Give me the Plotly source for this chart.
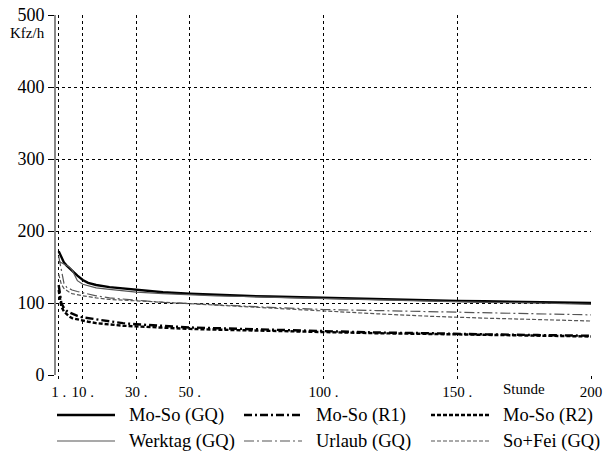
import plotly.graph_objects as go

hours = [1, 2, 3, 4, 5, 6, 8, 10, 12, 15, 20, 25, 30, 40, 50, 60, 70, 80, 90, 100, 120, 140, 150, 160, 180, 200]

mo_so_gq = [172, 163, 156, 152, 148, 145, 138, 132, 128, 125, 122, 120, 118, 115, 113, 111, 110, 109, 108, 107, 106, 104, 103, 102.5, 101.5, 100]
mo_so_r1 = [125, 100, 93, 89, 87, 85, 82, 80, 79, 77, 74, 72, 70.5, 68, 66, 65, 64, 62.5, 62, 61, 59, 58, 57, 56.5, 55.5, 54.5]
mo_so_r2 = [118, 95, 88, 84, 81, 79, 77, 75, 74, 72, 70, 68.5, 67.5, 65.5, 64, 63, 62, 61, 60, 59.5, 58, 57, 56.5, 55.5, 54.5, 53.5]
werktag_gq = [158, 156, 155, 153, 150, 146, 131, 126, 124, 121, 119, 117, 115, 113, 111, 110, 109, 108, 107, 106, 104, 102, 101.5, 101, 100, 98]
urlaub_gq = [165, 145, 127, 122, 120, 118, 116, 114, 112, 110, 107, 105, 104, 101, 99, 97, 95.5, 94, 92.5, 91, 89.5, 88, 87.5, 86.5, 85, 83.5]
sofei_gq = [140, 126, 120, 117, 115, 113, 111, 110, 109, 107, 105, 104, 103, 100, 98, 96, 94, 92, 90, 88, 85, 81.5, 80, 79, 77, 75]

x_tick_vals = [1, 10, 30, 50, 100, 150, 200]
x_tick_text = ["1 .", "10 .", "30 .", "50 .", "100 .", "150 .", "200"]
y_tick_vals = [0, 100, 200, 300, 400, 500]

series_names = ["Mo-So (GQ)", "Mo-So (R1)", "Mo-So (R2)", "Werktag (GQ)", "Urlaub (GQ)", "So+Fei (GQ)"]
series_values = [mo_so_gq, mo_so_r1, mo_so_r2, werktag_gq, urlaub_gq, sofei_gq]
series_styles = [
    dict(color="black", width=2.4, dash="solid"),
    dict(color="black", width=2.4, dash="8px,3px,2px,3px"),
    dict(color="black", width=2.4, dash="4px,2px"),
    dict(color="#555555", width=1.2, dash="solid"),
    dict(color="#555555", width=1.2, dash="10px,3px,2px,3px"),
    dict(color="#555555", width=1.2, dash="4px,2px"),
]

W, H = 604, 452
ML, MR, MT, MB = 56, 13, 15, 77
PW, PH = W - ML - MR, H - MT - MB

def px_x(px):
    return (px - ML) / PW

def px_y(py):
    return (H - MB - py) / PH

font_family = "'Times New Roman', 'Liberation Serif', 'DejaVu Serif', serif"

fig = go.Figure()
for name, vals, line in zip(series_names, series_values, series_styles):
    fig.add_trace(go.Scatter(x=hours, y=vals, mode="lines", name=name, line=line, showlegend=False))

# manual legend (2 rows x 3 columns)
col_line_x = [57, 244, 431]
row_y = [415, 441]
for i, (name, line) in enumerate(zip(series_names, series_styles)):
    r, c = divmod(i, 3)
    x0 = col_line_x[c]
    y = row_y[r]
    fig.add_shape(type="line", xref="paper", yref="paper",
                  x0=px_x(x0), x1=px_x(x0 + 58), y0=px_y(y), y1=px_y(y),
                  line=line)
    fig.add_annotation(text=name, xref="paper", yref="paper",
                       x=px_x(x0 + 70), y=px_y(y), xanchor="left", yanchor="middle",
                       showarrow=False, font=dict(size=18.5, family=font_family, color="black"))

fig.update_layout(
    width=W, height=H,
    margin=dict(l=ML, r=MR, t=MT, b=MB, autoexpand=False),
    paper_bgcolor="white", plot_bgcolor="white",
    font=dict(family=font_family, color="black"),
    showlegend=False,
)

fig.update_xaxes(
    range=[0, 200], tickmode="array", tickvals=x_tick_vals, ticktext=x_tick_text,
    showgrid=True, gridcolor="black", gridwidth=1, griddash="3px,3px",
    zeroline=False, showline=False, ticks="outside", ticklen=3, tickcolor="black",
    tickfont=dict(size=15, family=font_family),
)
fig.update_yaxes(
    range=[0, 500], tickmode="array", tickvals=y_tick_vals,
    showgrid=True, gridcolor="black", gridwidth=1, griddash="3px,3px",
    zeroline=False, showline=True, linecolor="#888888", linewidth=2,
    ticks="outside", ticklen=6, tickcolor="black",
    tickfont=dict(size=18, family=font_family),
)

fig.add_annotation(text="Kfz/h", xref="paper", yref="paper", x=px_x(47), y=px_y(33),
                   xanchor="right", yanchor="middle", showarrow=False,
                   font=dict(size=15, family=font_family))
fig.add_annotation(text="Stunde", xref="x", yref="paper", x=175, y=0,
                   xanchor="center", yanchor="top", yshift=-4, showarrow=False,
                   font=dict(size=15, family=font_family))

fig.write_html("out.html", config={"displayModeBar": False},
               post_script="document.body.style.margin='0px';document.body.style.overflow='hidden';")
